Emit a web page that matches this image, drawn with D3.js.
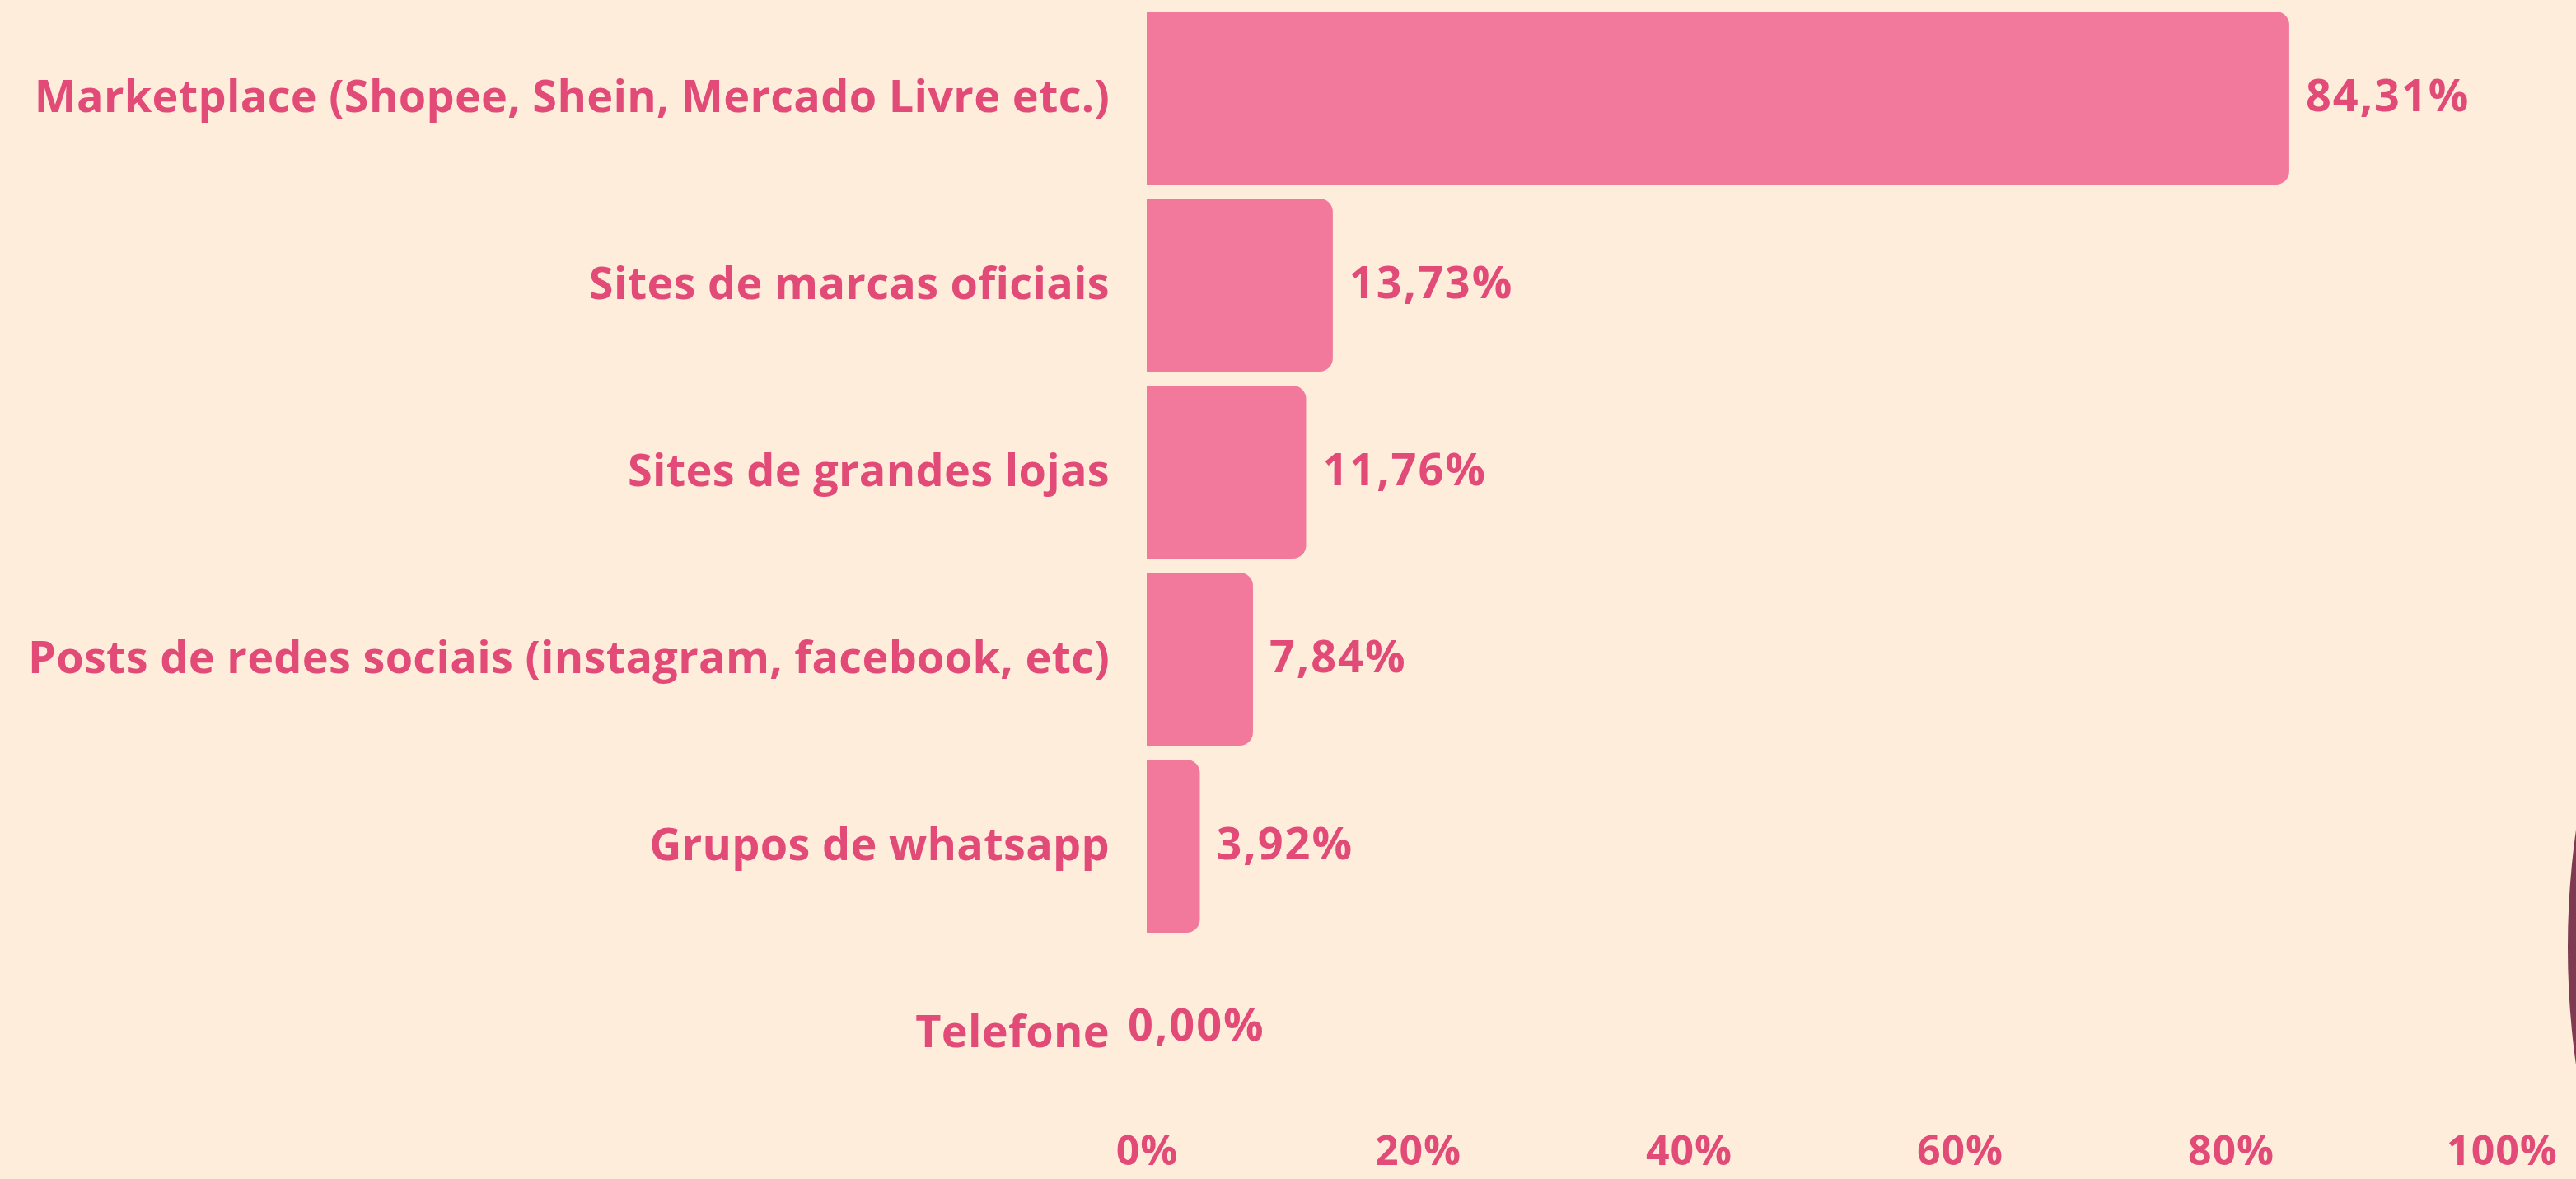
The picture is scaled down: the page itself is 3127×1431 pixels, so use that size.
<!DOCTYPE html>
<html>
<head>
<meta charset="utf-8">
<script src="https://cdn.jsdelivr.net/npm/d3@7"></script>
<style>
  html, body { margin: 0; padding: 0; background: #FDEDDA; overflow: hidden; }
  svg { display: block; }
  text { font-family: "Open Sans", "Noto Sans", sans-serif; font-weight: 700; fill: #E24A78; }
</style>
</head>
<body>
<svg id="chart" width="3127" height="1431"></svg>
<script>
const categories = [
  "Marketplace (Shopee, Shein, Mercado Livre etc.)",
  "Sites de marcas oficiais",
  "Sites de grandes lojas",
  "Posts de redes sociais (instagram, facebook, etc)",
  "Grupos de whatsapp",
  "Telefone"
];
const values = [84.31, 13.73, 11.76, 7.84, 3.92, 0.00];
const valueLabels = ["84,31%", "13,73%", "11,76%", "7,84%", "3,92%", "0,00%"];
const tickValues = [0, 20, 40, 60, 80, 100];
const tickLabels = ["0%", "20%", "40%", "60%", "80%", "100%"];

const data = categories.map((c, i) => ({ cat: c, v: values[i], label: valueLabels[i] }));

const W = 3127, H = 1431;
const svg = d3.select("#chart");
svg.append("rect").attr("width", W).attr("height", H).attr("fill", "#FDEDDA");

// decorative arc at right edge
svg.append("circle").attr("cx", 4139).attr("cy", 1150).attr("r", 1022).attr("fill", "#7E3A50");

const x = d3.scaleLinear().domain([0, 100]).range([1392, 3037]);
const y = d3.scaleBand().domain(categories).range([14, 1359]).paddingInner(0.075).paddingOuter(0);

function barPath(x0, x1, y0, h, r) {
  const w = x1 - x0;
  if (w <= 0) return "";
  r = Math.min(r, w, h / 2);
  return `M${x0},${y0}H${x1 - r}A${r},${r} 0 0 1 ${x1},${y0 + r}V${y0 + h - r}A${r},${r} 0 0 1 ${x1 - r},${y0 + h}H${x0}Z`;
}

svg.append("g").selectAll("path").data(data).join("path")
  .attr("d", d => barPath(x(0), x(d.v), y(d.cat), y.bandwidth(), 16))
  .attr("fill", "#F3799C");

// category labels
svg.append("g").selectAll("text").data(data).join("text")
  .attr("x", 1347)
  .attr("y", d => y(d.cat) + y.bandwidth() / 2 + 17)
  .attr("text-anchor", "end")
  .attr("font-size", 54)
  .attr("letter-spacing", 0.3)
  .text(d => d.cat);

// value labels
svg.append("g").selectAll("text").data(data).join("text")
  .attr("x", d => d.v > 0 ? x(d.v) + 20 : x(0) - 23)
  .attr("y", d => y(d.cat) + y.bandwidth() / 2 + (d.v > 0 ? 16 : 9))
  .attr("font-size", 54)
  .attr("letter-spacing", 2)
  .text(d => d.label);

// x axis
const axis = d3.axisBottom(x).tickValues(tickValues).tickSize(0).tickPadding(0)
  .tickFormat((d, i) => tickLabels[i]);
const gx = svg.append("g").attr("transform", "translate(0,1376)").call(axis);
gx.select(".domain").remove();
gx.selectAll("text")
  .attr("font-size", 50)
  .attr("dy", 0)
  .attr("y", 38)
  .attr("letter-spacing", 1)
  .style("font-family", "'Open Sans', sans-serif")
  .style("font-weight", 700)
  .style("fill", "#E24A78");
</script>
</body>
</html>
